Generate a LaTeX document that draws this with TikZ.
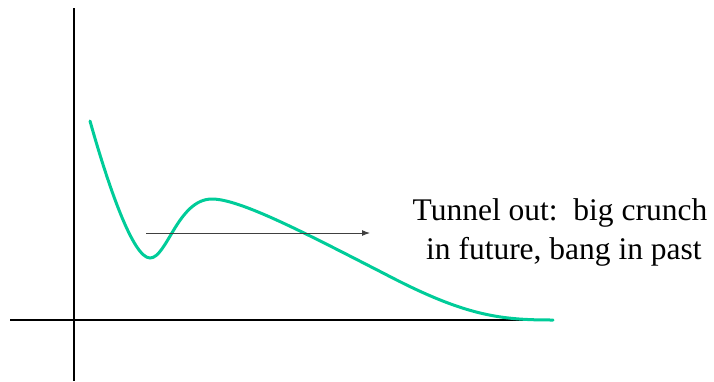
\documentclass[tikz,border=0pt]{standalone}
\usepackage{fontspec}
\setmainfont{Liberation Serif}
\usetikzlibrary{arrows.meta}
\definecolor{curvegreen}{HTML}{00CC99}
\begin{document}
\begin{tikzpicture}[x=1pt,y=-1pt,
  axis/.style={line width=1.6pt,black},
  potential/.style={line width=3pt,curvegreen,line cap=round},
  tunnel/.style={line width=1pt,black!75,-{Latex[length=8pt,width=6pt]}},
  label/.style={font=\fontsize{31.5}{39}\selectfont,align=center,inner sep=0pt}]
\useasboundingbox (0,0) rectangle (714,381);
\coordinate (ytop) at (74,8);
\coordinate (ybot) at (74,381);
\coordinate (xl) at (10,320);
\coordinate (xr) at (553,320);
\draw[axis] (ytop) -- (ybot);
\draw[axis] (xl) -- (xr);
\draw[potential] (90,121) .. controls (108,185) and (133,258) .. (150,258)
  .. controls (167,258) and (178,199) .. (212,199)
  .. controls (240,199) and (305,233) .. (385,274)
  .. controls (465,316) and (500,320) .. (553,320);
\coordinate (ts) at (146,233);
\coordinate (te) at (370,233);
\draw[tunnel] (ts) -- (te);
\node[label] (txt) at (560,232) {Tunnel out:\ \ big crunch\\ \ in future, bang in past};
\end{tikzpicture}
\end{document}
